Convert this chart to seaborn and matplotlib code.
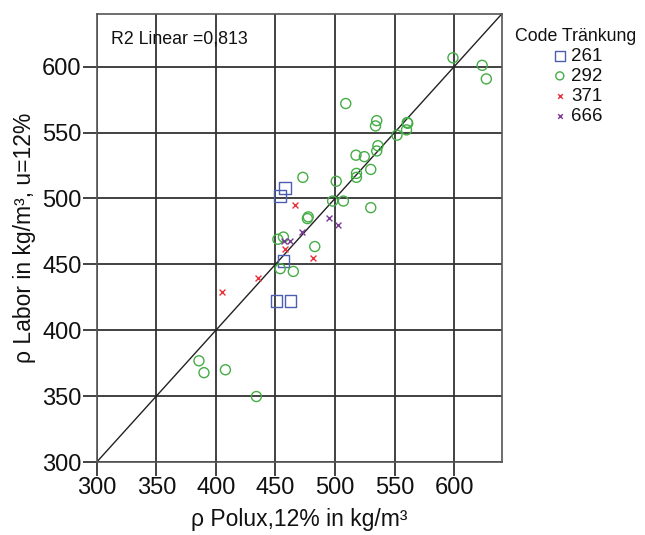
import matplotlib
matplotlib.use("Agg")
import matplotlib.pyplot as plt
import seaborn as sns
import pandas as pd
import numpy as np

# ---- data ----
codes = ["261", "292", "371", "666"]

x_261 = [457.8, 454.0, 456.7, 450.9, 462.6]
y_261 = [508.0, 502.0, 452.6, 422.0, 422.0]

x_292 = [599.0, 623.5, 627.0, 509.0, 535.0, 534.0, 560.6, 561.0, 560.0, 552.0,
         536.0, 535.0, 517.6, 524.6, 518.0, 518.0, 530.0, 473.0, 501.0, 498.0,
         507.0, 530.0, 476.8, 477.5, 452.0, 456.7, 483.0, 454.0, 465.0, 385.8,
         390.0, 408.0, 434.0]
y_292 = [606.7, 601.0, 590.7, 572.0, 559.0, 555.0, 557.6, 557.0, 552.0, 548.0,
         540.0, 536.0, 532.8, 531.7, 519.0, 516.0, 522.0, 516.0, 513.0, 498.0,
         498.0, 493.0, 484.7, 486.0, 469.0, 470.7, 463.5, 446.7, 444.6, 376.8,
         367.8, 370.0, 349.7]

x_371 = [466.4, 457.8, 481.7, 435.6, 405.0]
y_371 = [495.0, 461.4, 455.0, 440.0, 429.0]

x_666 = [494.8, 502.4, 472.7, 457.4, 462.3]
y_666 = [485.4, 479.5, 474.3, 468.0, 468.0]

ticks = [300, 350, 400, 450, 500, 550, 600]
r2_text = "R2 Linear =0,813"

xs = {"261": x_261, "292": x_292, "371": x_371, "666": x_666}
ys = {"261": y_261, "292": y_292, "371": y_371, "666": y_666}
rows = []
for c in codes:
    for a, b in zip(xs[c], ys[c]):
        rows.append({"polux": a, "labor": b, "code": c})
df = pd.DataFrame(rows)

colors = {"261": "#4a5fb0", "292": "#45ad45", "371": "#e8313a", "666": "#7a3a96"}
markers = {"261": "s", "292": "o", "371": "x", "666": "x"}
sizes = {"261": 72, "292": 52, "371": 18, "666": 18}

sns.set_theme(style="white")
plt.rcParams["font.family"] = ["Liberation Sans", "DejaVu Sans"]

fig = plt.figure(figsize=(6.45, 5.35), dpi=100)
ax = fig.add_axes([0.150, 0.1364, 0.628, 0.8376])

for c in codes:
    sub = df[df["code"] == c]
    if markers[c] == "x":
        sns.scatterplot(data=sub, x="polux", y="labor", marker="x", s=sizes[c],
                        color=colors[c], linewidth=1.0, ax=ax, label=c, zorder=3)
    else:
        sns.scatterplot(data=sub, x="polux", y="labor", marker=markers[c], s=sizes[c],
                        facecolor="none", edgecolor=colors[c], linewidth=1.0,
                        ax=ax, label=c, zorder=3)

ax.axline((300, 300), slope=1, color="#222222", linewidth=1.0, zorder=2)

ax.set_xlim(300, 640)
ax.set_ylim(300, 640)
ax.set_xticks(ticks)
ax.set_yticks(ticks)
ax.grid(True, color="#333333", linewidth=1.3)
ax.set_axisbelow(True)
for sp in ax.spines.values():
    sp.set_color("#555555")
    sp.set_linewidth(1.2)
ax.tick_params(axis="both", direction="out", length=10, width=1.2, color="#222222",
               labelsize=17, pad=1, labelcolor="#111111", bottom=True, left=True)

ax.set_xlabel("ρ Polux,12% in kg/m³", fontsize=16.5, color="#111111", labelpad=6)
ax.set_ylabel("ρ Labor in kg/m³, u=12%", fontsize=16.5, color="#111111", labelpad=4)

ax.text(0.035, 0.962, r2_text, transform=ax.transAxes, fontsize=12.8,
        ha="left", va="top", color="#111111")

leg = ax.legend(title="Code Tränkung", loc="upper left", bbox_to_anchor=(1.0, 0.998),
                frameon=False, fontsize=13.5, title_fontsize=12.8, handletextpad=0.0,
                labelspacing=0.15, borderaxespad=0.3, markerscale=0.8,
                handlelength=1.2)
leg.get_title().set_color("#111111")
for t in leg.get_texts():
    t.set_color("#111111")

fig.savefig("out.png", dpi=100)
